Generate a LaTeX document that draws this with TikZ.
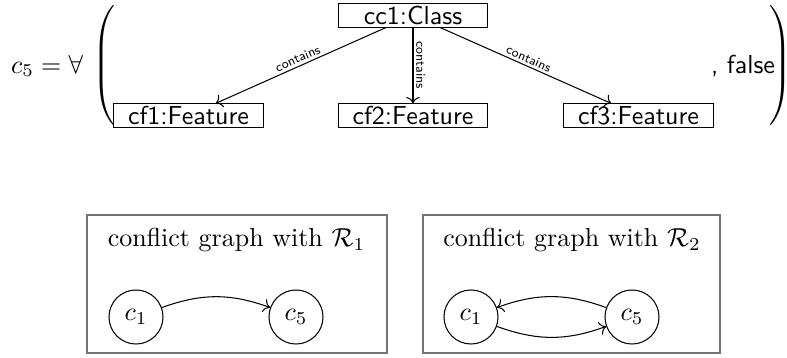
\documentclass[tikz,border=0pt]{standalone}
\usepackage{amsmath}
\usepackage{graphicx}
\usetikzlibrary{arrows.meta}
\begin{document}
\begin{tikzpicture}[x=0.385pt,y=-0.385pt,
  objbox/.style={draw, inner sep=0pt, minimum width=57.5pt, minimum height=8.9pt, font=\sffamily},
  lbl/.style={font=\sffamily\tiny, sloped, above, inner sep=1pt},
  graphbox/.style={draw=black!55, line width=0.6pt, inner sep=0pt, minimum height=53.1pt},
  cnode/.style={draw, circle, minimum size=20.8pt, inner sep=0pt},
  paren/.style={inner sep=0pt}
]
\useasboundingbox (0,0) rectangle (787,358);
% top formula
\node (eq) at (47,66) {$c_5 = \forall$};
\node[paren] (lp) at (105,65.5) {\scalebox{1}[0.96]{$\left(\vcenter{\hbox{\rule{0pt}{48pt}}}\right.$}};
\node[paren] (rp) at (779,65.5) {\scalebox{1}[0.96]{$\left.\vcenter{\hbox{\rule{0pt}{48pt}}}\right)$}};
\node[font=\sffamily] (fl) at (743,66) {, false};

\node[objbox] (cc1) at (413,15.5) {cc1:Class};
\node[objbox] (cf1) at (188.5,115.5) {cf1:Feature};
\node[objbox] (cf2) at (413,115.5) {cf2:Feature};
\node[objbox] (cf3) at (638.5,115.5) {cf3:Feature};
\draw[->] (cc1) -- node[lbl]{contains} (cf1);
\draw[->] (cc1) -- node[lbl]{contains} (cf2);
\draw[->] (cc1) -- node[lbl]{contains} (cf3);

% conflict graphs
\node[graphbox, minimum width=115.5pt] (g1) at (237,284) {};
\node (t1) at (236.5,240) {conflict graph with $\mathcal{R}_1$};
\node[cnode] (a1) at (136,317) {$c_1$};
\node[cnode] (a5) at (296,317) {$c_5$};
\draw[->] (a1) to[bend left=20] (a5);

\node[graphbox, minimum width=114.3pt] (g2) at (571.5,284) {};
\node (t2) at (572,240) {conflict graph with $\mathcal{R}_2$};
\node[cnode] (b1) at (471,317) {$c_1$};
\node[cnode] (b5) at (632,317) {$c_5$};
\draw[->] (b5) to[bend right=20] (b1);
\draw[->] (b1) to[bend right=20] (b5);
\end{tikzpicture}
\end{document}
